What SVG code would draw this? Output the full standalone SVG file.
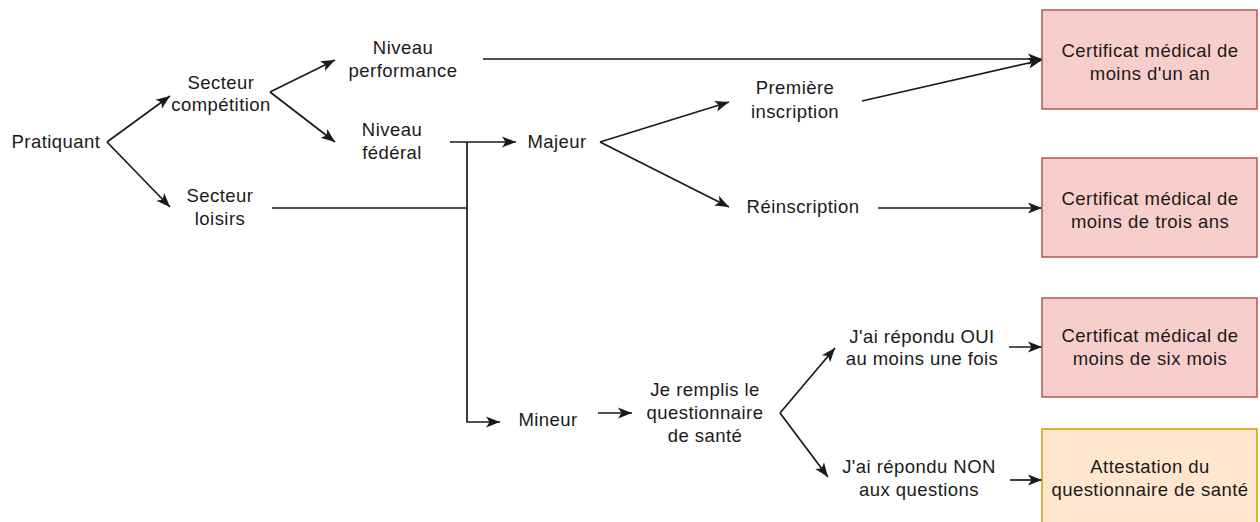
<svg xmlns="http://www.w3.org/2000/svg" width="1260" height="522" viewBox="0 0 1260 522">
<style>
text{font-family:"Liberation Sans",Arial,sans-serif;font-size:18.5px;letter-spacing:0.45px;fill:#1a1a1a;text-anchor:middle}
.e{fill:none;stroke:#1a1a1a;stroke-width:1.7}
.a{marker-end:url(#arr)}
.red{fill:#f8cecc;stroke:#b85450;stroke-width:1.5}
.org{fill:#ffe6cc;stroke:#d79b00;stroke-width:1.5}
</style>
<defs>
<marker id="arr" markerUnits="userSpaceOnUse" markerWidth="15" markerHeight="13" viewBox="0 0 15 13" refX="14" refY="6.5" orient="auto">
<path d="M0,1 L14,6.5 L0,12 L3.5,6.5 Z" fill="#1a1a1a"/>
</marker>
</defs>
<rect width="1260" height="522" fill="#ffffff"/>
<g id="connectors">
<path class="e a" d="M107,142 L170,96"/>
<path class="e a" d="M107,142 L170,207"/>
<path class="e a" d="M270,92 L335,60"/>
<path class="e a" d="M270,92 L335,142"/>
<path class="e a" d="M483,59 L1042,59"/>
<path class="e a" d="M862,101 L1042,60"/>
<path class="e a" d="M450,142 L516,142"/>
<path class="e" d="M272,208 L467,208 L467,142"/>
<path class="e a" d="M467,208 L467,422 L500,422"/>
<path class="e a" d="M600,142 L729,102"/>
<path class="e a" d="M600,142 L729,207"/>
<path class="e a" d="M878,208 L1042,208"/>
<path class="e a" d="M598,413 L632,413"/>
<path class="e a" d="M780,413 L835,348"/>
<path class="e a" d="M780,413 L828,477"/>
<path class="e a" d="M1009,347 L1042,347"/>
<path class="e a" d="M1010,480 L1042,480"/>
</g>
<g id="pratiquant"><text x="56" y="148">Pratiquant</text></g>
<g id="secteur-competition"><text x="221" y="89">Secteur</text><text x="221" y="111">compétition</text></g>
<g id="niveau-performance"><text x="403" y="54">Niveau</text><text x="403" y="77">performance</text></g>
<g id="niveau-federal"><text x="392" y="136">Niveau</text><text x="392" y="159">fédéral</text></g>
<g id="secteur-loisirs"><text x="220" y="202">Secteur</text><text x="220" y="225">loisirs</text></g>
<g id="majeur"><text x="557" y="148">Majeur</text></g>
<g id="premiere-inscription"><text x="795" y="94">Première</text><text x="795" y="118">inscription</text></g>
<g id="reinscription"><text x="803" y="213">Réinscription</text></g>
<g id="mineur"><text x="548" y="426">Mineur</text></g>
<g id="questionnaire"><text x="705" y="396">Je remplis le</text><text x="705" y="419">questionnaire</text><text x="705" y="442">de santé</text></g>
<g id="oui"><text x="922" y="343">J'ai répondu OUI</text><text x="922" y="365">au moins une fois</text></g>
<g id="non"><text x="919" y="473">J'ai répondu NON</text><text x="919" y="496">aux questions</text></g>
<g id="cert-un-an"><rect class="red" x="1042" y="10" width="215" height="99"/><text x="1150" y="57">Certificat médical de</text><text x="1150" y="80">moins d'un an</text></g>
<g id="cert-trois-ans"><rect class="red" x="1042" y="158" width="215" height="99"/><text x="1150" y="205">Certificat médical de</text><text x="1150" y="228">moins de trois ans</text></g>
<g id="cert-six-mois"><rect class="red" x="1042" y="298" width="215" height="99"/><text x="1150" y="342">Certificat médical de</text><text x="1150" y="365">moins de six mois</text></g>
<g id="attestation"><rect class="org" x="1042" y="429" width="215" height="99"/><text x="1150" y="473">Attestation du</text><text x="1150" y="496">questionnaire de santé</text></g>
</svg>
